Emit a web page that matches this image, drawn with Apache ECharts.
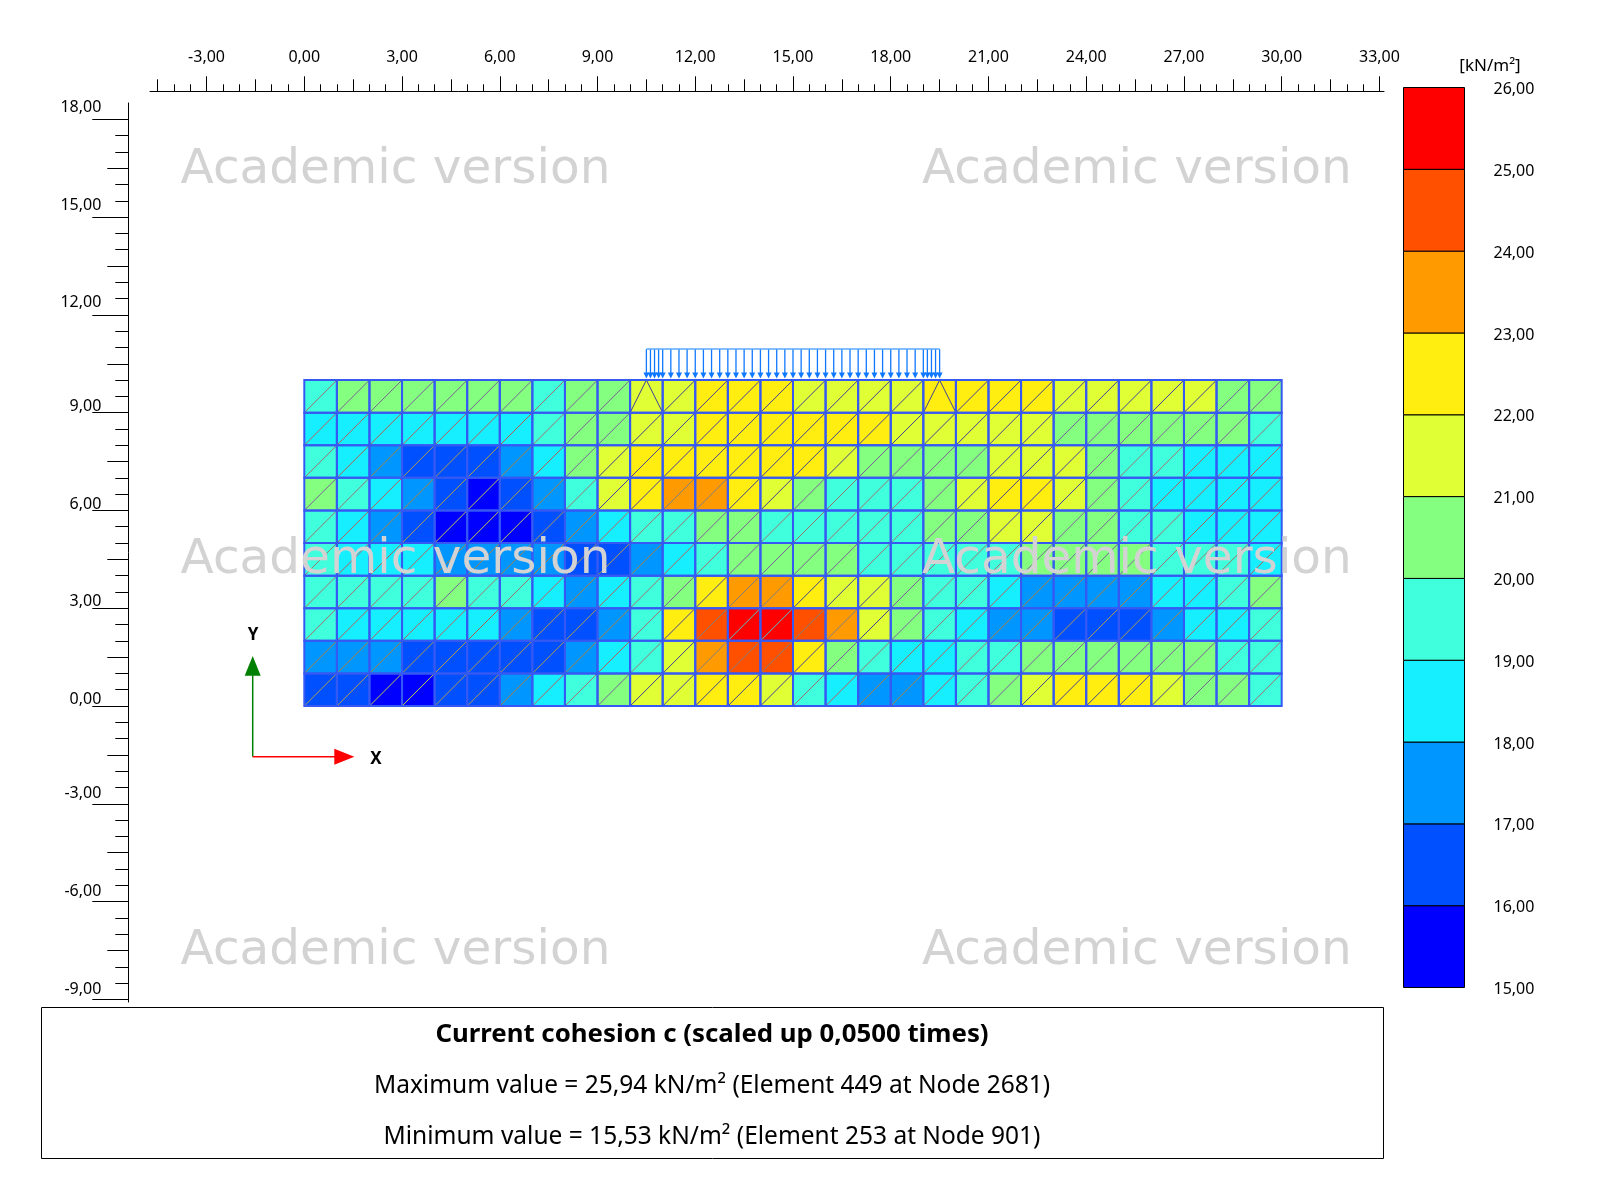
<!DOCTYPE html>
<html><head><meta charset="utf-8">
<style>html,body{margin:0;padding:0;background:#fff}#c{width:1600px;height:1200px}</style>
<script src="https://cdn.jsdelivr.net/npm/echarts@6/dist/echarts.min.js"></script>
</head><body><div id="c"></div>
<script>
// Cell values (kN/m²), band mid-points; top row first
const row9=[19.5,20.5,20.5,20.5,20.5,20.5,20.5,19.5,20.5,20.5,21.5,21.5,22.5,22.5,22.5,21.5,21.5,21.5,21.5,22.5,22.5,22.5,22.5,21.5,21.5,21.5,21.5,21.5,20.5,20.5];
const row8=[18.5,18.5,18.5,18.5,18.5,18.5,18.5,19.5,20.5,20.5,21.5,21.5,22.5,22.5,22.5,22.5,22.5,22.5,21.5,21.5,21.5,21.5,21.5,20.5,20.5,20.5,20.5,20.5,20.5,19.5];
const row7=[19.5,18.5,17.5,16.5,16.5,16.5,17.5,18.5,20.5,21.5,22.5,22.5,22.5,22.5,22.5,22.5,21.5,20.5,20.5,20.5,20.5,21.5,21.5,21.5,20.5,19.5,19.5,18.5,18.5,18.5];
const row6=[20.5,19.5,18.5,17.5,16.5,15.5,16.5,17.5,19.5,21.5,22.5,23.5,23.5,22.5,21.5,20.5,19.5,19.5,19.5,20.5,21.5,22.5,22.5,21.5,20.5,19.5,18.5,18.5,18.5,18.5];
const row5=[19.5,18.5,17.5,16.5,15.5,15.5,15.5,16.5,17.5,18.5,19.5,19.5,20.5,20.5,19.5,19.5,19.5,19.5,19.5,20.5,20.5,21.5,21.5,20.5,20.5,19.5,19.5,18.5,18.5,18.5];
const row4=[19.5,18.5,18.5,18.5,17.5,17.5,17.5,17.5,16.5,16.5,17.5,18.5,19.5,20.5,20.5,20.5,20.5,19.5,19.5,19.5,19.5,19.5,20.5,20.5,20.5,20.5,19.5,19.5,19.5,18.5];
const row3=[19.5,19.5,19.5,19.5,20.5,19.5,19.5,18.5,17.5,18.5,19.5,20.5,22.5,23.5,23.5,22.5,21.5,21.5,20.5,19.5,19.5,18.5,17.5,17.5,17.5,17.5,18.5,18.5,19.5,20.5];
const row2=[19.5,18.5,18.5,18.5,18.5,18.5,17.5,16.5,16.5,17.5,19.5,22.5,24.5,25.5,25.5,24.5,23.5,21.5,20.5,19.5,18.5,17.5,17.5,16.5,16.5,16.5,17.5,18.5,18.5,19.5];
const row1=[17.5,17.5,17.5,16.5,16.5,16.5,16.5,16.5,17.5,18.5,19.5,21.5,23.5,24.5,24.5,22.5,20.5,19.5,18.5,18.5,19.5,19.5,20.5,20.5,20.5,20.5,20.5,20.5,19.5,19.5];
const row0=[16.5,16.5,15.5,15.5,16.5,16.5,17.5,18.5,19.5,20.5,21.5,21.5,22.5,22.5,21.5,19.5,18.5,17.5,17.5,18.5,19.5,20.5,21.5,22.5,22.5,22.5,21.5,20.5,20.5,19.5];
const rows=[row0,row1,row2,row3,row4,row5,row6,row7,row8,row9];
const apexColumns=[10,19];

const bandColors=['#0000FF','#0050FF','#0096FF','#16EFFF','#40FFDC','#85FF80','#E0FF35','#FFEE10','#FF9A00','#FF5000','#FF0000'];
const diagColors=['#c8c850','#b09a50','#b08040','#b85a5a','#a07070','#7a5f9a','#40409a','#40409a','#808080','#808080','#50c8c8'];
const bandEdges=[15,16,17,18,19,20,21,22,23,24,25,26];

const xMajor=[-3,0,3,6,9,12,15,18,21,24,27,30,33];
const xMedium=[-4.5,-1.5,1.5,4.5,7.5,10.5,13.5,16.5,19.5,22.5,25.5,28.5,31.5];
const xMinor=[-4,-3.5,-2.5,-2,-1,-0.5,0.5,1,2,2.5,3.5,4,5,5.5,6.5,7,8,8.5,9.5,10,11,11.5,12.5,13,14,14.5,15.5,16,17,17.5,18.5,19,20,20.5,21.5,22,23,23.5,24.5,25,26,26.5,27.5,28,29,29.5,30.5,31,32,32.5];
const yMajor=[-9,-6,-3,0,3,6,9,12,15,18];
const yLabelsHigh=[12,15,18];
const yLabelsMid=[-9,-6,-3];
const yLabelsLow=[0,3,6,9];
const yMedium=[-7.5,-4.5,-1.5,1.5,4.5,7.5,10.5,13.5,16.5];
const yMinor=[-8.5,-8,-7,-6.5,-5.5,-5,-4,-3.5,-2.5,-2,-1,-0.5,0.5,1,2,2.5,3.5,4,5,5.5,6.5,7,8,8.5,9.5,10,11,11.5,12.5,13,14,14.5,15.5,16,17,17.5];
const loadX=[10.5,10.625,10.75,10.875,11,11.25,11.5,11.75,12,12.25,12.5,12.75,13,13.25,13.5,13.75,14,14.25,14.5,14.75,15,15.25,15.5,15.75,16,16.25,16.5,16.75,17,17.25,17.5,17.75,18,18.25,18.5,18.75,19,19.125,19.25,19.375,19.5];
const loadTop=10.95, loadTip=10.05;

const FONT='"Noto Sans"';
const fmt=v=>v.toFixed(2).replace('.',',');
const cellData=[];
rows.forEach((r,j)=>r.forEach((v,i)=>cellData.push([i,j,v])));
const bandOf=v=>Math.min(10,Math.floor(v-15));

function xAxisDef(values,len,main){
  return {type:'value',gridIndex:0,position:'top',offset:11.7,min:-4.736,max:33.14,splitLine:{show:false},
    axisLine:{show:main,onZero:false,lineStyle:{color:'#000',width:1}},
    axisTick:{show:true,length:len,customValues:values,lineStyle:{color:'#000',width:1}},
    axisLabel:main?{show:true,customValues:values,margin:26,color:'#000',fontFamily:FONT,fontSize:16,formatter:fmt,hideOverlap:false}:{show:false}};
}
function yAxisDef(values,len,labels,pad,lh,line){
  return {type:'value',gridIndex:0,position:'left',offset:21.7,min:-9.08,max:18.5,splitLine:{show:false},
    axisLine:{show:!!line,onZero:false,lineStyle:{color:'#000',width:1}},
    axisTick:{show:len>0,length:len,customValues:values,lineStyle:{color:'#000',width:1}},
    axisLabel:labels?{show:true,customValues:labels,margin:27,color:'#000',fontFamily:FONT,fontSize:16,lineHeight:lh,formatter:fmt,verticalAlign:'bottom',padding:[0,0,pad,0],hideOverlap:false}:{show:false}};
}

const watermarks=[[180.6,170],[922,170],[180.6,560],[922,560],[180.6,951],[922,951]];
const WM='Academic version';
const TOP=100;
const graphicEls=[
  {type:'rect',z:TOP,shape:{x:41.5,y:1007.5,width:1342,height:151},style:{fill:'#fff',stroke:'#000',lineWidth:1}},
  {type:'text',z:TOP,x:712,y:1035,style:{text:'Current cohesion c (scaled up 0,0500 times)',font:'bold 25.8px '+FONT,fill:'#000',align:'center',verticalAlign:'middle'}},
  {type:'text',z:TOP,x:712,y:1086,style:{text:'Maximum value = 25,94 kN/m² (Element 449 at Node 2681)',font:'24.5px '+FONT,fill:'#000',align:'center',verticalAlign:'middle'}},
  {type:'text',z:TOP,x:712,y:1137,style:{text:'Minimum value = 15,53 kN/m² (Element 253 at Node 901)',font:'24.5px '+FONT,fill:'#000',align:'center',verticalAlign:'middle'}},
  {type:'text',z:TOP,x:1490,y:66,style:{text:'[kN/m²]',font:'17px '+FONT,fill:'#000',align:'center',verticalAlign:'middle'}},
  {type:'line',z:TOP,shape:{x1:252.7,y1:756.7,x2:252.7,y2:675},style:{stroke:'#008000',lineWidth:1.5}},
  {type:'polygon',z:TOP,shape:{points:[[252.7,656],[244.7,675.7],[260.7,675.7]]},style:{fill:'#008000'}},
  {type:'line',z:TOP,shape:{x1:252.7,y1:756.7,x2:335,y2:756.7},style:{stroke:'#ff0000',lineWidth:1.5}},
  {type:'polygon',z:TOP,shape:{points:[[354.3,756.7],[334.3,748.7],[334.3,764.7]]},style:{fill:'#ff0000'}},
  {type:'text',z:TOP,x:253,y:635,style:{text:'Y',font:'bold 17px '+FONT,fill:'#000',align:'center',verticalAlign:'middle'}},
  {type:'text',z:TOP,x:376,y:759,style:{text:'X',font:'bold 17px '+FONT,fill:'#000',align:'center',verticalAlign:'middle'}}
].concat(watermarks.map(p=>({type:'text',z:TOP,x:p[0],y:p[1],style:{text:WM,font:'48.5px "DejaVu Sans"',fill:'#d3d3d3',align:'left',verticalAlign:'middle'}})));

const option={
  animation:false,backgroundColor:'#fff',
  grid:[
    {left:150,top:103,width:1234,height:899,containLabel:false},
    {left:1403.5,top:87.5,width:61,height:900,containLabel:false}
  ],
  xAxis:[xAxisDef(xMajor,15,true),xAxisDef(xMedium,12,false),xAxisDef(xMinor,7,false),
    {type:'value',gridIndex:1,min:0,max:1,show:false}],
  yAxis:[yAxisDef(yMajor,36,yLabelsHigh,4,16,true),yAxisDef(yMedium,21,null,0),yAxisDef(yMinor,13,null,0),
    {type:'value',gridIndex:1,position:'right',min:15,max:26,interval:1,splitLine:{show:false},
     axisLine:{show:false},axisTick:{show:false},
     axisLabel:{margin:29,color:'#000',fontFamily:FONT,fontSize:16,lineHeight:4,verticalAlign:'top',formatter:fmt,hideOverlap:false}},
    yAxisDef([],0,yLabelsLow,0,13,false),yAxisDef([],0,yLabelsMid,2,16,false)],
  graphic:{elements:graphicEls},
  series:[
    {type:'custom',xAxisIndex:0,yAxisIndex:0,clip:false,z:2,silent:true,data:cellData,encode:{x:0,y:1},
     renderItem(p,api){
       const i=api.value(0),j=api.value(1),b=bandOf(api.value(2));
       const bl=api.coord([i,j]),tr=api.coord([i+1,j+1]);
       const w=tr[0]-bl[0],h=bl[1]-tr[1];
       const kids=[{type:'rect',shape:{x:bl[0],y:tr[1],width:w,height:h},style:{fill:bandColors[b],stroke:null}}];
       const lineStyle={stroke:diagColors[b],lineWidth:1,fill:null};
       if(j===9&&apexColumns.includes(i)){
         const ax=bl[0]+w/2;
         kids.push({type:'polyline',shape:{points:[[bl[0],bl[1]],[ax,tr[1]],[tr[0],bl[1]]]},style:lineStyle});
       }else{
         kids.push({type:'line',shape:{x1:bl[0],y1:bl[1],x2:tr[0],y2:tr[1]},style:lineStyle});
       }
       return {type:'group',children:kids};
     }},
    {type:'custom',xAxisIndex:0,yAxisIndex:0,clip:false,z:3,silent:true,data:cellData,encode:{x:0,y:1},
     renderItem(p,api){
       const i=api.value(0),j=api.value(1);
       const bl=api.coord([i,j]),tr=api.coord([i+1,j+1]);
       return {type:'rect',shape:{x:bl[0],y:tr[1],width:tr[0]-bl[0],height:bl[1]-tr[1]},style:{fill:null,stroke:'#3659f4',lineWidth:2}};
     }},
    {type:'custom',xAxisIndex:0,yAxisIndex:0,clip:false,z:4,silent:true,data:loadX.map(x=>[x,loadTop,loadTip]),encode:{x:0,y:1},
     renderItem(p,api){
       const x=api.value(0),t=api.coord([x,api.value(1)]),b=api.coord([x,api.value(2)]);
       return {type:'group',children:[
         {type:'line',shape:{x1:t[0],y1:t[1],x2:b[0],y2:b[1]-4},style:{stroke:'#0f78ff',lineWidth:1.3}},
         {type:'polygon',shape:{points:[[b[0],b[1]],[b[0]-3,b[1]-6],[b[0]+3,b[1]-6]]},style:{fill:'#0f78ff'}}
       ]};
     }},
    {type:'custom',xAxisIndex:0,yAxisIndex:0,clip:false,z:4,silent:true,data:[[loadX[0],loadX[loadX.length-1],loadTop]],encode:{x:[0,1],y:2},
     renderItem(p,api){
       const a=api.coord([api.value(0),api.value(2)]),b=api.coord([api.value(1),api.value(2)]);
       return {type:'line',shape:{x1:a[0],y1:a[1],x2:b[0],y2:b[1]},style:{stroke:'#5aa8ff',lineWidth:1.5}};
     }},
    {type:'custom',xAxisIndex:3,yAxisIndex:3,clip:false,z:2,silent:true,
     data:bandColors.map((c,k)=>[0,1,bandEdges[k],bandEdges[k+1]]),encode:{x:[0,1],y:[2,3]},
     renderItem(p,api){
       const a=api.coord([api.value(0),api.value(2)]),b=api.coord([api.value(1),api.value(3)]);
       return {type:'rect',shape:{x:a[0],y:b[1],width:b[0]-a[0],height:a[1]-b[1]},style:{fill:bandColors[p.dataIndex],stroke:'#000',lineWidth:1}};
     }}
  ]
};
const chart=echarts.init(document.getElementById('c'),null,{renderer:'canvas'});
chart.setOption(option);
</script></body></html>
